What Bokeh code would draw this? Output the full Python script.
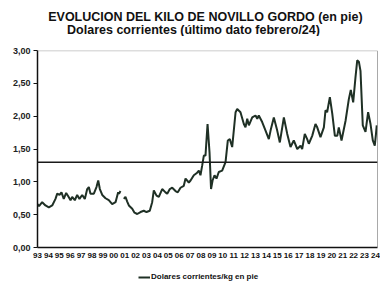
import numpy as np
from bokeh.plotting import figure
from bokeh.layouts import column
from bokeh.models import (Range1d, FixedTicker, LinearAxis, Span, Label, Legend, LegendItem)
from bokeh.embed import file_html
from bokeh.resources import INLINE

nan = float("nan")

# decimal years (month resolution)
fechas = [1993.00, 1993.14, 1993.43, 1993.73, 1994.04, 1994.35, 1994.65, 1994.81, 1995.02, 1995.20,
          1995.41, 1995.63, 1995.82, 1996.03, 1996.18, 1996.42, 1996.64, 1996.85, 1997.10, 1997.34,
          1997.56, 1997.71, 1997.86, 1998.17, 1998.41, 1998.57, 1998.72, 1998.94, 1999.24, 1999.54,
          1999.85, 2000.16, 2000.40, 2000.48, 2000.61, 2000.75, 2000.92, 2001.07, 2001.23, 2001.38,
          2001.69, 2001.90, 2002.15, 2002.45, 2002.75, 2003.00, 2003.30, 2003.52, 2003.67, 2003.92,
          2004.13, 2004.44, 2004.74, 2004.90, 2005.14, 2005.36, 2005.66, 2005.87, 2006.12, 2006.42,
          2006.58, 2006.88, 2007.04, 2007.34, 2007.59, 2007.80, 2007.95, 2008.11, 2008.26, 2008.41,
          2008.60, 2008.78, 2008.92, 2009.06, 2009.24, 2009.42, 2009.63, 2009.94, 2010.25, 2010.46,
          2010.64, 2010.86, 2011.17, 2011.32, 2011.62, 2011.93, 2012.08, 2012.24, 2012.39, 2012.70,
          2013.00, 2013.16, 2013.30, 2013.61, 2013.92, 2014.22, 2014.38, 2014.68, 2014.99, 2015.23,
          2015.60, 2015.91, 2016.21, 2016.51, 2016.83, 2017.13, 2017.28, 2017.52, 2017.74, 2017.89,
          2018.20, 2018.50, 2018.66, 2018.96, 2019.27, 2019.42, 2019.57, 2019.82, 2020.04, 2020.28,
          2020.50, 2020.64, 2020.89, 2021.26, 2021.56, 2021.74, 2021.96, 2022.17, 2022.33, 2022.48,
          2022.63, 2022.84, 2023.09, 2023.33, 2023.55, 2023.76, 2023.94, 2024.05, 2024.12]

dolares_kg = [0.66, 0.63, 0.69, 0.64, 0.61, 0.64, 0.74, 0.82, 0.80, 0.84,
              0.74, 0.83, 0.78, 0.72, 0.77, 0.72, 0.80, 0.74, 0.80, 0.74,
              0.89, 0.92, 0.82, 0.82, 0.92, 1.02, 0.89, 0.80, 0.75, 0.72,
              0.66, 0.69, 0.84, 0.82, 0.86, nan, 0.74, 0.77, 0.70, 0.64,
              0.59, 0.53, 0.51, 0.54, 0.56, 0.54, 0.56, 0.69, 0.87, 0.79,
              0.77, 0.89, 0.84, 0.82, 0.89, 0.91, 0.86, 0.84, 0.91, 0.94,
              1.05, 0.99, 1.02, 1.10, 1.13, 1.17, 1.10, 1.25, 1.40, 1.40,
              1.88, 1.45, 0.89, 1.02, 1.10, 1.05, 1.15, 1.17, 1.30, 1.63,
              1.65, 1.53, 2.06, 2.11, 2.06, 1.88, 1.83, 1.96, 1.86, 1.98,
              2.01, 1.96, 2.01, 1.91, 1.78, 1.65, 1.78, 1.98, 1.78, 1.60,
              1.98, 1.73, 1.53, 1.63, 1.50, 1.55, 1.50, 1.73, 1.65, 1.58,
              1.70, 1.88, 1.83, 1.68, 1.83, 2.09, 2.06, 2.29, 2.04, 1.70,
              1.70, 1.83, 1.63, 1.93, 2.26, 2.40, 2.21, 2.59, 2.85, 2.83,
              2.69, 1.86, 1.76, 2.06, 1.88, 1.63, 1.55, 1.73, 1.86]

nivel_referencia = 1.30

anios_ticks = list(range(1993, 2025))
anios_labels = ["93", "94", "95", "96", "97", "98", "99", "00", "01", "02", "03", "04", "05", "06",
                "07", "08", "09", "10", "11", "12", "13", "14", "15", "16", "17", "18", "19", "20",
                "21", "22", "23", "24"]
y_ticks = [0.0, 0.5, 1.0, 1.5, 2.0, 2.5, 3.0]
y_labels = ["0,00", "0,50", "1,00", "1,50", "2,00", "2,50", "3,00"]

titulo1 = "EVOLUCION DEL KILO DE NOVILLO GORDO (en pie)"
titulo2 = "Dolares corrientes (último dato febrero/24)"
serie_nombre = "Dolares corrientes/kg en pie"

FONT = "Liberation Sans"
LINE_COLOR = "#1f3025"


def strip(height):
    f = figure(width=380, height=height, output_backend="svg", toolbar_location=None,
               x_range=Range1d(0, 1), y_range=Range1d(0, 1),
               min_border_left=0, min_border_right=0, min_border_top=0, min_border_bottom=0,
               x_axis_location=None, y_axis_location=None)
    f.outline_line_color = None
    f.xgrid.visible = False
    f.ygrid.visible = False
    return f


# title strip (its frame is aligned with the chart frame, which starts at x=37)
head = strip(36)
head.add_layout(Label(x=168, y=20, x_units="screen", y_units="screen", text=titulo1,
                      text_align="center", text_baseline="middle", text_font=FONT,
                      text_font_style="bold", text_font_size="12.5px", text_color="#111111"))
head.add_layout(Label(x=156, y=7, x_units="screen", y_units="screen", text=titulo2,
                      text_align="center", text_baseline="middle", text_font=FONT,
                      text_font_style="bold", text_font_size="12.5px", text_color="#111111"))

# main chart
fig = figure(width=380, height=230, output_backend="svg", toolbar_location=None,
             x_range=Range1d(1993.0, 2024.19), y_range=Range1d(0, 3.0),
             min_border_left=37, min_border_right=3, min_border_top=14, min_border_bottom=19,
             x_axis_location=None, y_axis_location=None)
fig.background_fill_color = "white"
fig.border_fill_color = "white"
fig.outline_line_color = None
fig.xgrid.visible = False
fig.ygrid.visible = False

xax = LinearAxis(ticker=FixedTicker(ticks=anios_ticks),
                 major_label_overrides={t: l for t, l in zip(anios_ticks, anios_labels)})
xax.axis_line_color = "#111111"
xax.axis_line_width = 1.5
xax.major_tick_out = 0
xax.major_tick_in = 0
xax.minor_tick_out = 0
xax.minor_tick_in = 0
xax.major_label_standoff = 5
xax.major_label_text_font = FONT
xax.major_label_text_font_style = "bold"
xax.major_label_text_font_size = "8px"
xax.major_label_text_color = "#111111"
fig.add_layout(xax, "below")

yax = LinearAxis(ticker=FixedTicker(ticks=y_ticks),
                 major_label_overrides={t: l for t, l in zip(y_ticks, y_labels)})
yax.axis_line_color = "#111111"
yax.axis_line_width = 1.5
yax.major_tick_out = 4
yax.major_tick_in = 0
yax.major_tick_line_color = "#111111"
yax.minor_tick_out = 0
yax.minor_tick_in = 0
yax.major_label_standoff = 3
yax.major_label_text_font = FONT
yax.major_label_text_font_style = "bold"
yax.major_label_text_font_size = "9px"
yax.major_label_text_color = "#222222"
fig.add_layout(yax, "left")

# top dotted border and right border
fig.add_layout(Span(location=3.0, dimension="width", line_color="#777777", line_width=1.5,
                    line_dash="1 1"))
fig.add_layout(Span(location=2024.19, dimension="height", line_color="#555555", line_width=1))

# reference line
fig.add_layout(Span(location=nivel_referencia, dimension="width", line_color="#1a1a1a",
                    line_width=1.5))

fig.line(fechas, dolares_kg, line_color=LINE_COLOR, line_width=2)

# legend strip below the chart
leg = strip(21)
r_leg = leg.line(fechas, dolares_kg, line_color=LINE_COLOR, line_width=2)
legend = Legend(items=[LegendItem(label=serie_nombre, renderers=[r_leg])],
                orientation="horizontal", location=(101, 6))
legend.border_line_color = None
legend.background_fill_alpha = 0
legend.glyph_width = 12
legend.glyph_height = 8
legend.label_standoff = 1
legend.padding = 0
legend.margin = 0
legend.spacing = 0
legend.label_height = 8
legend.label_text_font = FONT
legend.label_text_font_style = "bold"
legend.label_text_font_size = "8px"
legend.label_text_color = "#111111"
leg.add_layout(legend)

p = column(head, fig, leg, spacing=0)

open("out.html", "w").write(file_html(p, INLINE))
